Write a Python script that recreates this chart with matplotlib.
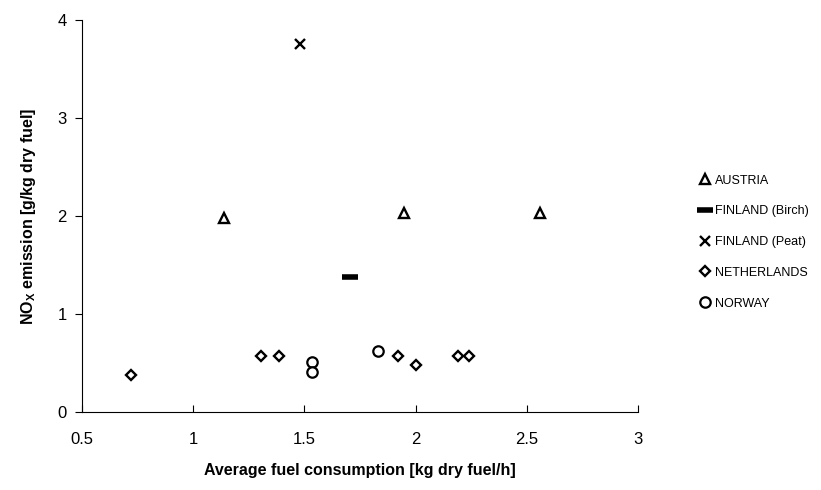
import matplotlib
matplotlib.use("Agg")
import matplotlib.pyplot as plt

plt.rcParams['font.family'] = ['Liberation Sans', 'DejaVu Sans']
plt.rcParams['mathtext.fontset'] = 'custom'
plt.rcParams['mathtext.rm'] = 'Liberation Sans'
plt.rcParams['mathtext.bf'] = 'Liberation Sans:bold'

# data
austria_x = [1.14, 1.95, 2.56]
austria_y = [1.98, 2.03, 2.03]
birch_x = [1.705]
birch_y = [1.38]
peat_x = [1.48]
peat_y = [3.76]
neth_x = [0.72, 1.305, 1.385, 1.92, 2.0, 2.19, 2.24]
neth_y = [0.38, 0.57, 0.57, 0.57, 0.48, 0.57, 0.57]
norway_x = [1.535, 1.535, 1.83]
norway_y = [0.51, 0.41, 0.62]

fig = plt.figure(figsize=(8.21, 4.9), dpi=100)
ax = fig.add_axes([0.1, 0.159, 0.677, 0.8])

ax.plot(austria_x, austria_y, ls='none', marker='^', ms=6.5, mfc='white', mec='black', mew=1.7, label='AUSTRIA')
ax.plot(birch_x, birch_y, ls='none', marker='_', ms=11, mec='black', mew=4, label='FINLAND (Birch)')
ax.plot(peat_x, peat_y, ls='none', marker='x', ms=7.5, mec='black', mew=1.7, label='FINLAND (Peat)')
ax.plot(neth_x, neth_y, ls='none', marker='D', ms=5.5, mfc='white', mec='black', mew=1.7, label='NETHERLANDS')
ax.plot(norway_x, norway_y, ls='none', marker='o', ms=7.5, mfc='white', mec='black', mew=1.6, label='NORWAY')

ax.set_xlim(0.5, 3)
ax.set_ylim(0, 4)
ax.set_xticks([0.5, 1, 1.5, 2, 2.5, 3])
ax.set_xticklabels(['0.5', '1', '1.5', '2', '2.5', '3'])
ax.set_yticks([0, 1, 2, 3, 4])
ax.spines['top'].set_visible(False)
ax.spines['right'].set_visible(False)
ax.spines['left'].set_linewidth(0.8)
ax.spines['bottom'].set_linewidth(0.8)
ax.tick_params(axis='x', direction='in', length=5, labelsize=12, pad=14)
ax.tick_params(axis='y', direction='out', length=5, labelsize=12, pad=6)

ax.set_xlabel('Average fuel consumption [kg dry fuel/h]', fontsize=11.5, fontweight='bold', labelpad=12)
ax.set_ylabel(r'NO$_\mathbf{X}$ emission [g/kg dry fuel]', fontsize=11.5, fontweight='bold', labelpad=14)

ax.legend(loc='center left', bbox_to_anchor=(0.853, 0.506), bbox_transform=fig.transFigure,
          frameon=False, fontsize=9.0, handlelength=0.7, handletextpad=0.45,
          labelspacing=1.5, borderaxespad=0, borderpad=0)

fig.savefig('out.png', dpi=100)
